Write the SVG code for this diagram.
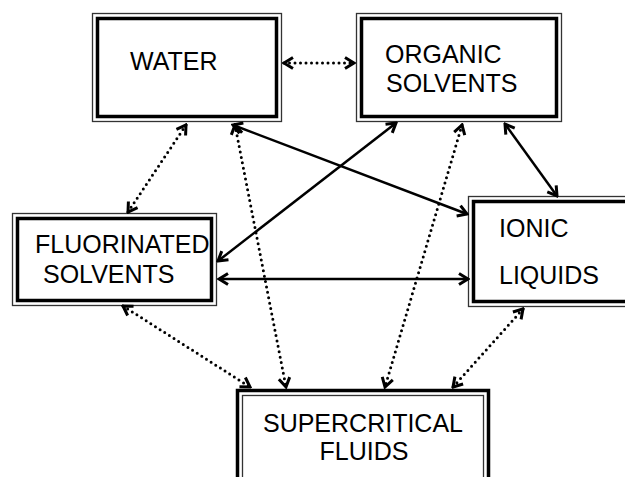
<svg xmlns="http://www.w3.org/2000/svg" width="625" height="477" viewBox="0 0 625 477">
<style>
.outer{fill:none;stroke:#333;stroke-width:1.3}
.inner{fill:none;stroke:#000;stroke-width:3.5}
.lbl{font-family:"Liberation Sans",Arial,sans-serif;font-size:25px;fill:#000}
.solid{stroke:#000;stroke-width:2.5;fill:none;marker-start:url(#ah);marker-end:url(#ah)}
.dot{stroke:#000;stroke-width:3;fill:none;stroke-dasharray:0 5.5;stroke-linecap:round;marker-start:url(#ah);marker-end:url(#ah)}
</style>
<defs>
<marker id="ah" markerUnits="userSpaceOnUse" viewBox="-12 -8 14 16" markerWidth="14" markerHeight="16" refX="0" refY="0" orient="auto-start-reverse">
<path d="M-9,-5.5 L0,0 L-9,5.5" fill="none" stroke="#000" stroke-width="3" stroke-linejoin="miter"/>
</marker>
</defs>
<rect width="625" height="477" fill="#fff"/>
<g id="water">
<rect class="outer" x="92.5" y="13.5" width="189" height="108"/>
<rect class="inner" x="97.5" y="18.5" width="179" height="98"/>
<text class="lbl" x="130" y="70">WATER</text>
</g>
<g id="organic">
<rect class="outer" x="356.5" y="13.5" width="205" height="108"/>
<rect class="inner" x="361.5" y="18.5" width="195" height="98"/>
<text class="lbl" x="385" y="63">ORGANIC</text>
<text class="lbl" x="386" y="92">SOLVENTS</text>
</g>
<g id="fluorinated">
<rect class="outer" x="12.5" y="213.5" width="204" height="92"/>
<rect class="inner" x="17.5" y="218.5" width="194" height="82"/>
<text class="lbl" x="35" y="253">FLUORINATED</text>
<text class="lbl" x="43" y="283">SOLVENTS</text>
</g>
<g id="ionic">
<rect class="outer" x="468.5" y="196.5" width="180" height="110"/>
<rect class="inner" x="473.5" y="201.5" width="170" height="100"/>
<text class="lbl" x="499" y="237">IONIC</text>
<text class="lbl" x="499" y="284">LIQUIDS</text>
</g>
<g id="supercritical">
<rect class="inner" x="237.5" y="390.5" width="251" height="100"/>
<rect class="outer" x="242.5" y="395.5" width="241" height="90"/>
<text class="lbl" x="363" y="432" text-anchor="middle">SUPERCRITICAL</text>
<text class="lbl" x="364" y="460" text-anchor="middle">FLUIDS</text>
</g>
<g id="connectors">
<line class="solid" x1="233" y1="125" x2="467" y2="214"/>
<line class="solid" x1="396" y1="123" x2="218" y2="261"/>
<line class="solid" x1="505" y1="124" x2="557" y2="196"/>
<line class="solid" x1="219" y1="279" x2="468" y2="279"/>
<line class="dot" x1="284" y1="63" x2="354" y2="63"/>
<line class="dot" x1="186" y1="125" x2="128" y2="212"/>
<line class="dot" x1="235" y1="125" x2="286" y2="387"/>
<line class="dot" x1="462" y1="125" x2="385" y2="387"/>
<line class="dot" x1="523" y1="309" x2="453" y2="387"/>
<line class="dot" x1="123" y1="306" x2="250" y2="387"/>
</g>
</svg>
